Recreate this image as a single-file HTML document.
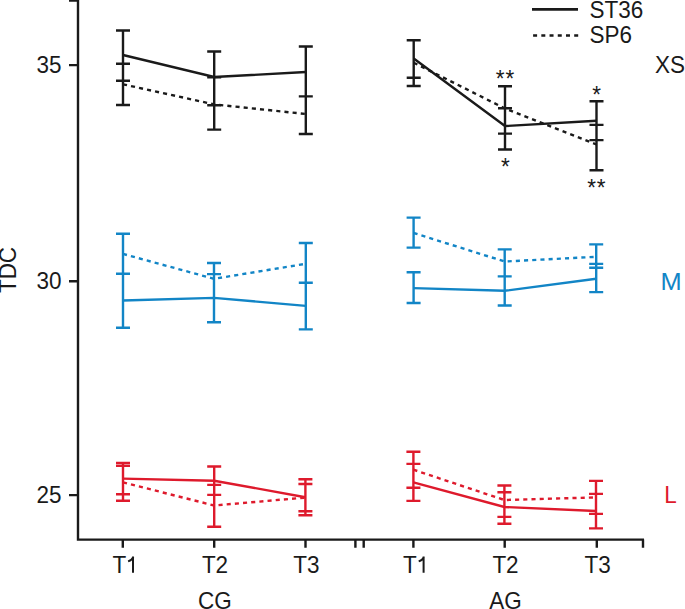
<!DOCTYPE html>
<html><head><meta charset="utf-8"><title>TDC chart</title>
<style>
html,body{margin:0;padding:0;background:#fff;width:685px;height:609px;overflow:hidden}
svg{display:block}
text{font-family:"Liberation Sans",sans-serif;font-size:22.5px}
</style></head><body>
<svg width="685" height="609" viewBox="0 0 685 609">
<rect width="685" height="609" fill="#fff"/>
<path d="M78 0V539.6H644 M69 0.6H78 M69 65.1H78 M69 281.2H78 M69 495.1H78 M122.8 539.6V547.8 M214.2 539.6V547.8 M305.5 539.6V547.8 M355.4 539.6V547.8 M363.7 539.6V547.8 M413.4 539.6V547.8 M504.7 539.6V547.8 M596.8 539.6V547.8 M643 539.6V547.8" stroke="#1a1a1a" stroke-width="2.4" fill="none"/>
<polyline points="123,55 214.2,77 305.8,72" fill="none" stroke="#1a1a1a" stroke-width="2.4"/>
<polyline points="123,84.3 214.2,104.4 305.8,114" fill="none" stroke="#1a1a1a" stroke-width="2.4" stroke-dasharray="4.1 4.1"/>
<polyline points="413.7,58.5 505,126 596.5,120.8" fill="none" stroke="#1a1a1a" stroke-width="2.4"/>
<polyline points="413.7,62.7 505,108.5 596.5,144.5" fill="none" stroke="#1a1a1a" stroke-width="2.4" stroke-dasharray="4.1 4.1"/>
<path d="M123 30.5V80.7M116 30.5h14M116 80.7h14M123 63.8V105M116 63.8h14M116 105h14M214.2 51.5V105.2M207.2 51.5h14M207.2 105.2h14M214.2 77.2V129.6M207.2 77.2h14M207.2 129.6h14M305.8 46.5V96.4M298.8 46.5h14M298.8 96.4h14M305.8 96.4V134M298.8 96.4h14M298.8 134h14M413.7 40.2V77.8M406.7 40.2h14M406.7 77.8h14M413.7 40.2V86M406.7 40.2h14M406.7 86h14M505 108.3V149.5M498 108.3h14M498 149.5h14M505 86.2V133.6M498 86.2h14M498 133.6h14M596.5 101.2V140.1M589.5 101.2h14M589.5 140.1h14M596.5 124.9V170.3M589.5 124.9h14M589.5 170.3h14" stroke="#1a1a1a" stroke-width="2.4" fill="none"/>
<polyline points="123,300.5 214,297.9 305.8,305.9" fill="none" stroke="#1285c6" stroke-width="2.4"/>
<polyline points="123,253.9 214,278.8 305.8,263.8" fill="none" stroke="#1285c6" stroke-width="2.4" stroke-dasharray="4.1 4.1"/>
<polyline points="413.6,288.1 504.7,290.8 596.2,278.8" fill="none" stroke="#1285c6" stroke-width="2.4"/>
<polyline points="413.6,233 504.7,261.5 596.2,256.8" fill="none" stroke="#1285c6" stroke-width="2.4" stroke-dasharray="4.1 4.1"/>
<path d="M123 273.8V327.7M116 273.8h14M116 327.7h14M123 233.7V273.8M116 233.7h14M116 273.8h14M214 274.1V322.3M207 274.1h14M207 322.3h14M214 263V278.8M207 263h14M305.8 282.8V329.4M298.8 282.8h14M298.8 329.4h14M305.8 243V282.8M298.8 243h14M298.8 282.8h14M413.6 272.2V303M406.6 272.2h14M406.6 303h14M413.6 217.65V247.65M406.6 217.65h14M406.6 247.65h14M504.7 276.4V305.5M497.7 276.4h14M497.7 305.5h14M504.7 249.4V276.4M497.7 249.4h14M497.7 276.4h14M596.2 263.9V292.1M589.2 263.9h14M589.2 292.1h14M596.2 244.4V267.7M589.2 244.4h14M589.2 267.7h14" stroke="#1285c6" stroke-width="2.4" fill="none"/>
<polyline points="123,478.6 214.2,480.7 305.4,497.2" fill="none" stroke="#de1a2c" stroke-width="2.4"/>
<polyline points="123,482.4 214.2,505.5 305.4,497.6" fill="none" stroke="#de1a2c" stroke-width="2.4" stroke-dasharray="4.1 4.1"/>
<polyline points="413.4,482.4 504.4,507 596,511" fill="none" stroke="#de1a2c" stroke-width="2.4"/>
<polyline points="413.4,469.7 504.4,500 596,497.4" fill="none" stroke="#de1a2c" stroke-width="2.4" stroke-dasharray="4.1 4.1"/>
<path d="M123 462.9V494.3M116 462.9h14M116 494.3h14M123 465.8V500.8M116 465.8h14M116 500.8h14M214.2 466.5V494.9M207.2 466.5h14M207.2 494.9h14M214.2 484.9V526.7M207.2 484.9h14M207.2 526.7h14M305.4 479.2V515.2M298.4 479.2h14M298.4 515.2h14M305.4 484V511.2M298.4 484h14M298.4 511.2h14M413.4 463.9V500.9M406.4 463.9h14M406.4 500.9h14M413.4 451.7V487.7M406.4 451.7h14M406.4 487.7h14M504.4 492.2V523.7M497.4 492.2h14M497.4 523.7h14M504.4 485.5V516.9M497.4 485.5h14M497.4 516.9h14M596 493.9V528.4M589 493.9h14M589 528.4h14M596 480.9V513.9M589 480.9h14M589 513.9h14" stroke="#de1a2c" stroke-width="2.4" fill="none"/>
<text transform="translate(61.5 72.6) scale(1.0 1.06)" fill="#1a1a1a" text-anchor="end" >35</text>
<text transform="translate(61.6 289) scale(1.0 1.06)" fill="#1a1a1a" text-anchor="end" >30</text>
<text transform="translate(61.5 503) scale(1.0 1.06)" fill="#1a1a1a" text-anchor="end" >25</text>
<text transform="translate(112.4 572.6) scale(1.0 1.06)" fill="#1a1a1a" text-anchor="start" >T</text>
<path d="M133 572.8V556.6M133.3 557.2C132.4 559.6 130.4 560.6 128.1 561.4" stroke="#1a1a1a" stroke-width="2" fill="none"/>
<text transform="translate(215 572.6) scale(1.0 1.06)" fill="#1a1a1a" text-anchor="middle" >T2</text>
<text transform="translate(306.3 572.6) scale(1.0 1.06)" fill="#1a1a1a" text-anchor="middle" >T3</text>
<text transform="translate(403 572.6) scale(1.0 1.06)" fill="#1a1a1a" text-anchor="start" >T</text>
<path d="M423.6 572.8V556.6M423.9 557.2C423 559.6 421 560.6 418.7 561.4" stroke="#1a1a1a" stroke-width="2" fill="none"/>
<text transform="translate(505.5 572.6) scale(1.0 1.06)" fill="#1a1a1a" text-anchor="middle" >T2</text>
<text transform="translate(597.6 572.6) scale(1.0 1.06)" fill="#1a1a1a" text-anchor="middle" >T3</text>
<text transform="translate(214.8 608.6) scale(1.0 1.06)" fill="#1a1a1a" text-anchor="middle" >CG</text>
<text transform="translate(505.5 608.6) scale(1.0 1.06)" fill="#1a1a1a" text-anchor="middle" >AG</text>
<text transform="translate(589.5 17.7) scale(1.0 1.06)" fill="#1a1a1a" text-anchor="start" >ST36</text>
<text transform="translate(589.5 43.2) scale(1.0 1.06)" fill="#1a1a1a" text-anchor="start" >SP6</text>
<text transform="translate(655 72.6) scale(1.0 1.06)" fill="#1a1a1a" text-anchor="start" >XS</text>
<text transform="translate(671 289.7) scale(1.13 1.06)" fill="#1285c6" text-anchor="middle" >M</text>
<text transform="translate(664.2 502.9) scale(1.0 1.06)" fill="#de1a2c" text-anchor="start" >L</text>
<text transform="translate(16.2 270) rotate(-90) scale(1 1.06)" text-anchor="middle" fill="#1a1a1a">TDC</text>
<text transform="translate(505.4 87.4) scale(1.0 1.06)" fill="#1a1a1a" text-anchor="middle" letter-spacing="0.8">**</text>
<text transform="translate(505.4 174.8) scale(1.0 1.06)" fill="#1a1a1a" text-anchor="middle" >*</text>
<text transform="translate(596.7 102.6) scale(1.0 1.06)" fill="#1a1a1a" text-anchor="middle" >*</text>
<text transform="translate(596.7 195.6) scale(1.0 1.06)" fill="#1a1a1a" text-anchor="middle" letter-spacing="0.8">**</text>
<path d="M532 9.4H578" stroke="#1a1a1a" stroke-width="2.6"/>
<path d="M533.1 35.5H578.2" stroke="#1a1a1a" stroke-width="2.3" stroke-dasharray="4 4.22"/>
</svg>
</body></html>
